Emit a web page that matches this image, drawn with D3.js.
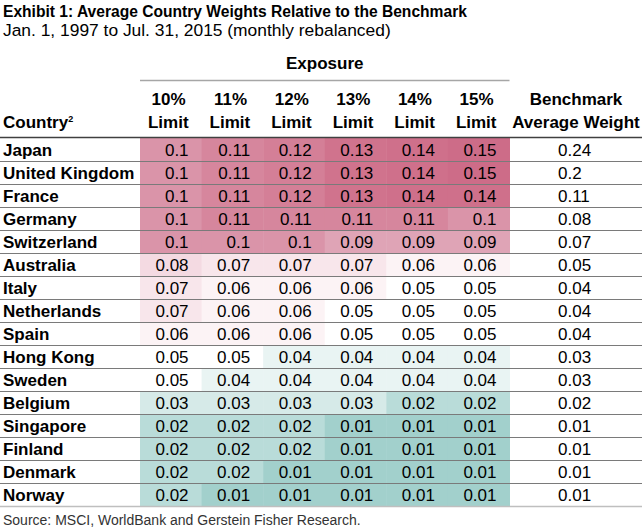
<!DOCTYPE html>
<html>
<head>
<meta http-equiv="Content-Type" content="text/html; charset=UTF-8">
<!-- Load d3.js -->
<script src="https://d3js.org/d3.v7.min.js"></script>
<style>
  body { margin: 0; background: #fff; }
  text { font-family: "Liberation Sans", Arial, sans-serif; fill: #000; }
</style>
</head>
<body>
<div id="my_dataviz"></div>
<script>
// rows, top to bottom
var countries = ["Japan", "United Kingdom", "France", "Germany", "Switzerland", "Australia",
  "Italy", "Netherlands", "Spain", "Hong Kong", "Sweden", "Belgium", "Singapore",
  "Finland", "Denmark", "Norway"];

var limitTop = ["10%", "11%", "12%", "13%", "14%", "15%"];

// one array per exposure column
var limit10 = [0.1, 0.1, 0.1, 0.1, 0.1, 0.08, 0.07, 0.07, 0.06, 0.05, 0.05, 0.03, 0.02, 0.02, 0.02, 0.02];
var limit11 = [0.11, 0.11, 0.11, 0.11, 0.1, 0.07, 0.06, 0.06, 0.06, 0.05, 0.04, 0.03, 0.02, 0.02, 0.02, 0.01];
var limit12 = [0.12, 0.12, 0.12, 0.11, 0.1, 0.07, 0.06, 0.06, 0.06, 0.04, 0.04, 0.03, 0.02, 0.02, 0.01, 0.01];
var limit13 = [0.13, 0.13, 0.13, 0.11, 0.09, 0.07, 0.06, 0.05, 0.05, 0.04, 0.04, 0.03, 0.01, 0.01, 0.01, 0.01];
var limit14 = [0.14, 0.14, 0.14, 0.11, 0.09, 0.06, 0.05, 0.05, 0.05, 0.04, 0.04, 0.02, 0.01, 0.01, 0.01, 0.01];
var limit15 = [0.15, 0.15, 0.14, 0.1, 0.09, 0.06, 0.05, 0.05, 0.05, 0.04, 0.04, 0.02, 0.01, 0.01, 0.01, 0.01];
var benchmark = [0.24, 0.2, 0.11, 0.08, 0.07, 0.05, 0.04, 0.04, 0.04, 0.03, 0.03, 0.02, 0.01, 0.01, 0.01, 0.01];

var limitCols = [limit10, limit11, limit12, limit13, limit14, limit15];

var W = 642, H = 531;
var FS = "17px";
var svg = d3.select("#my_dataviz")
  .append("svg")
    .attr("width", W)
    .attr("height", H);

// column and row scales
var x = d3.scaleBand()
  .domain(limitTop)
  .range([140, 509.5]);
var y = d3.scaleBand()
  .domain(countries)
  .range([138, 506]);

// teal -> white -> pink, like the excel colour scale
var color = d3.scaleLinear()
  .domain([0.01, 0.02, 0.03, 0.04, 0.05, 0.06, 0.07, 0.08, 0.09, 0.1, 0.11, 0.12, 0.13, 0.15])
  .range(["#a2d0cc", "#b9dcd9", "#d6eae8", "#e9f4f3", "#ffffff", "#fcf3f5", "#f8e6eb",
          "#f4dae2", "#dfa4b6", "#da94a9", "#d6869d", "#d47f97", "#d0738d", "#cd6c88"]);

var fmt = function(v) { return String(+v.toFixed(2)); };

// title
svg.append("text")
  .attr("x", 3).attr("y", 17)
  .style("font-size", "15.6px").style("font-weight", "bold")
  .text("Exhibit 1: Average Country Weights Relative to the Benchmark");
svg.append("text")
  .attr("x", 3).attr("y", 36)
  .style("font-size", "17.4px")
  .text("Jan. 1, 1997 to Jul. 31, 2015 (monthly rebalanced)");

// Exposure group header
svg.append("text")
  .attr("x", (x.range()[0] + x.range()[1]) / 2).attr("y", 69)
  .attr("text-anchor", "middle")
  .style("font-size", FS).style("font-weight", "bold")
  .text("Exposure");
svg.append("line")
  .attr("x1", x.range()[0]).attr("x2", x.range()[1])
  .attr("y1", 80.5).attr("y2", 80.5)
  .attr("stroke", "#a6a6a6").attr("stroke-width", 1.5);

// column headers
var hdr = svg.append("g").selectAll("g")
  .data(limitTop)
  .enter().append("g");
hdr.append("text")
  .attr("x", function(d) { return x(d) + x.bandwidth() - 16; })
  .attr("y", 105)
  .attr("text-anchor", "end")
  .style("font-size", FS).style("font-weight", "bold")
  .text(function(d) { return d; });
hdr.append("text")
  .attr("x", function(d) { return x(d) + x.bandwidth() - 13; })
  .attr("y", 128)
  .attr("text-anchor", "end")
  .style("font-size", FS).style("font-weight", "bold")
  .text("Limit");

svg.append("text")
  .attr("x", 576).attr("y", 105)
  .attr("text-anchor", "middle")
  .style("font-size", FS).style("font-weight", "bold")
  .text("Benchmark");
svg.append("text")
  .attr("x", 576).attr("y", 128)
  .attr("text-anchor", "middle")
  .style("font-size", FS).style("font-weight", "bold")
  .text("Average Weight");

var ct = svg.append("text")
  .attr("x", 3).attr("y", 128)
  .style("font-size", FS).style("font-weight", "bold")
  .text("Country");
ct.append("tspan")
  .attr("dy", -6)
  .style("font-size", "9px")
  .text("2");

// cells
var cells = [];
countries.forEach(function(c, i) {
  limitCols.forEach(function(col, j) {
    cells.push({country: c, lim: limitTop[j], v: col[i]});
  });
});

svg.append("g").selectAll("rect")
  .data(cells)
  .enter().append("rect")
    .attr("x", function(d) { return x(d.lim); })
    .attr("y", function(d) { return y(d.country); })
    .attr("width", x.bandwidth() + 0.5)
    .attr("height", y.bandwidth() + 0.5)
    .attr("fill", function(d) { return color(d.v); });

svg.append("g").selectAll("text")
  .data(cells)
  .enter().append("text")
    .attr("x", function(d) { return x(d.lim) + x.bandwidth() - 13; })
    .attr("y", function(d) { return y(d.country) + y.bandwidth() / 2 + 6; })
    .attr("text-anchor", "end")
    .style("font-size", FS)
    .text(function(d) { return fmt(d.v); });

// row labels
svg.append("g").selectAll("text")
  .data(countries)
  .enter().append("text")
    .attr("x", 3)
    .attr("y", function(d) { return y(d) + y.bandwidth() / 2 + 6; })
    .style("font-size", FS).style("font-weight", "bold")
    .text(function(d) { return d; });

// benchmark column
svg.append("g").selectAll("text")
  .data(benchmark)
  .enter().append("text")
    .attr("x", 558)
    .attr("y", function(d, i) { return y(countries[i]) + y.bandwidth() / 2 + 6; })
    .style("font-size", FS)
    .text(function(d) { return fmt(d); });

// row rules
svg.append("g").selectAll("line")
  .data(countries.slice(1))
  .enter().append("line")
    .attr("x1", 0).attr("x2", W)
    .attr("y1", function(d) { return Math.round(y(d)) + 0.5; })
    .attr("y2", function(d) { return Math.round(y(d)) + 0.5; })
    .attr("stroke", "#7a7a7a").attr("stroke-width", 1);

svg.append("line")
  .attr("x1", 0).attr("x2", W)
  .attr("y1", 137.5).attr("y2", 137.5)
  .attr("stroke", "#404040").attr("stroke-width", 1.5);
svg.append("line")
  .attr("x1", 0).attr("x2", W)
  .attr("y1", 506.5).attr("y2", 506.5)
  .attr("stroke", "#bfbfbf").attr("stroke-width", 1.5);

// source
svg.append("text")
  .attr("x", 3).attr("y", 525)
  .style("font-size", "14px").style("fill", "#333")
  .text("Source: MSCI, WorldBank and Gerstein Fisher Research.");
</script>
</body>
</html>
